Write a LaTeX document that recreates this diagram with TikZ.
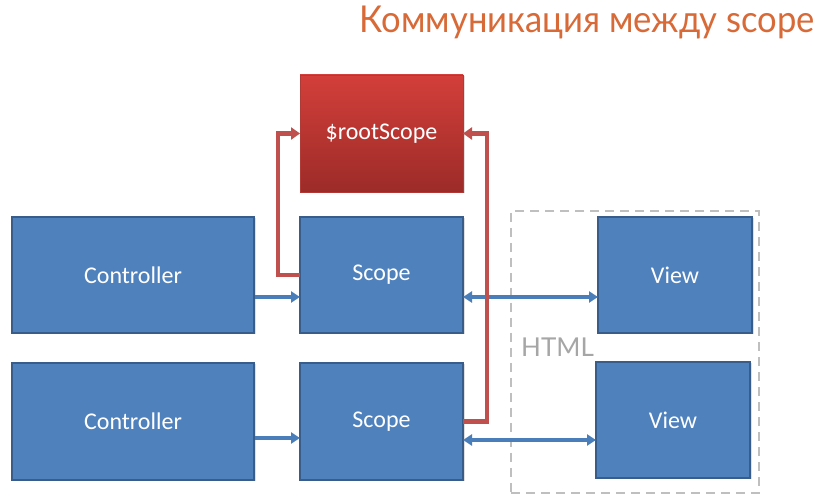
\documentclass[tikz,border=0pt]{standalone}
\usepackage{fontspec}
\setmainfont{Carlito}
\newfontfamily\titlefont{Lato}
\usetikzlibrary{arrows.meta,calc,shadows}
\definecolor{boxblue}{HTML}{4F81BD}
\definecolor{boxborder}{HTML}{385D8A}
\definecolor{arrblue}{HTML}{4A7EBB}
\definecolor{redtop}{HTML}{D33F3A}
\definecolor{redbot}{HTML}{9C2B28}
\definecolor{redborder}{HTML}{B03A36}
\definecolor{arrred}{HTML}{C0504D}
\definecolor{dashgray}{HTML}{BFBFBF}
\definecolor{htmlgray}{HTML}{A6A6A6}
\definecolor{titleorange}{HTML}{D86A38}
\tikzset{
  bluebox/.style={rectangle, fill=boxblue, draw=boxborder, line width=1.5pt,
    inner sep=0pt, outer sep=0pt, minimum height=116pt, text=white,
    font=\fontsize{24}{28}\selectfont,
    drop shadow={opacity=0.25, shadow xshift=1.5pt, shadow yshift=-1.5pt}},
  redbox/.style={rectangle, top color=redtop, bottom color=redbot, draw=redborder,
    line width=0.8pt, inner sep=0pt, outer sep=0pt, minimum width=163pt,
    minimum height=117pt, text=white, font=\fontsize{24}{28}\selectfont,
    drop shadow={opacity=0.25, shadow xshift=1.5pt, shadow yshift=-1.5pt}},
  bluearrow/.style={draw=arrblue, line width=3.2pt, -{Triangle[length=9pt,width=11pt]}},
  bluedouble/.style={draw=arrblue, line width=3.2pt, {Triangle[length=9pt,width=11pt]}-{Triangle[length=9pt,width=11pt]}},
  redarrow/.style={draw=arrred, line width=4.5pt, -{Triangle[length=9pt,width=12pt]}},
  htmlframe/.style={rectangle, draw=dashgray, line width=2.5pt, dash pattern=on 9pt off 6pt,
    minimum width=248pt, minimum height=282pt, inner sep=0pt},
}
\begin{document}
\begin{tikzpicture}[x=1pt,y=-1pt]
\useasboundingbox[fill=white] (0,0) rectangle (823,502);
% title
\node[anchor=base east, text=titleorange, inner sep=0pt,
  font=\titlefont\fontsize{37}{40}\selectfont] (title) at (815,33) {\scalebox{0.935}[1]{Коммуникация между scope}};
% html frame
\node[htmlframe] (htmlbox) at (635,352) {};
\node[anchor=base west, text=htmlgray, inner sep=0pt,
  font=\titlefont\fontsize{26}{30}\selectfont] (htmllabel) at (521,357) {HTML};
% boxes
\node[redbox] (root) at (381.5,133.5) {\$rootScope};
\node[bluebox, minimum width=242pt] (c1) at (133,275) {Controller};
\node[bluebox, minimum width=163pt] (s1) at (381.5,275) {Scope};
\node[bluebox, minimum width=154pt] (v1) at (675,275) {View};
\node[bluebox, minimum width=242pt, minimum height=117pt] (c2) at (133,421.5) {Controller};
\node[bluebox, minimum width=163pt, minimum height=117pt] (s2) at (381.5,421.5) {Scope};
\node[bluebox, minimum width=154pt] (v2) at (673,420) {View};
% blue arrows
\draw[bluearrow] ($(c1.east)+(1,22)$) -- ($(s1.west)+(0,22)$);
\draw[bluedouble] ($(s1.east)+(0,22)$) -- ($(v1.west)+(0,22)$);
\draw[bluearrow] ($(c2.east)+(1,16.5)$) -- ($(s2.west)+(0,16.5)$);
\draw[bluedouble] ($(s2.east)+(0,18.5)$) -- ($(v2.west)+(0,20)$);
% red arrows
\draw[redarrow] (s1.west) -- ++(-22,0) |- (root.west);
\draw[redarrow] (s2.east) -- ++(24,0) |- (root.east);
\end{tikzpicture}
\end{document}
